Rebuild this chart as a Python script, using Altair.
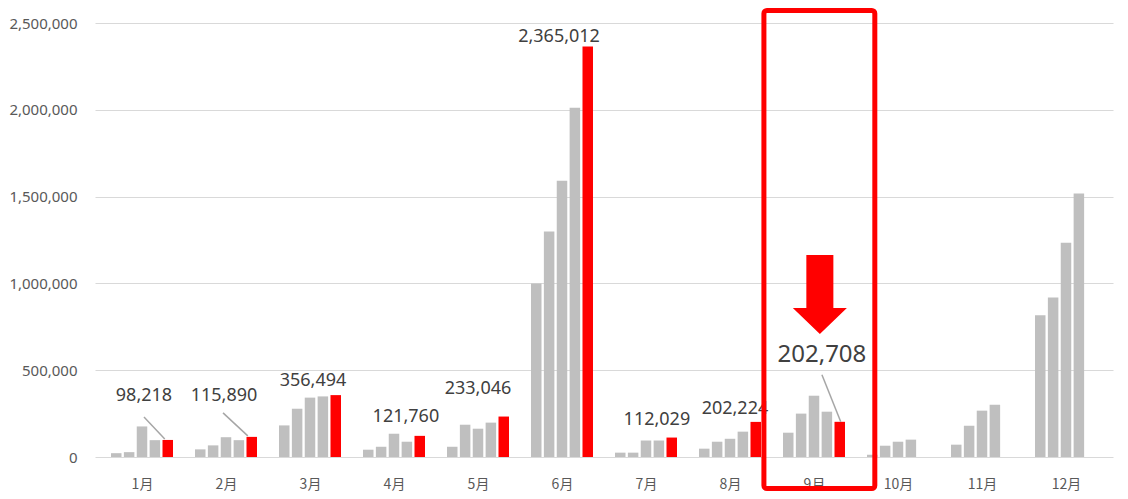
import altair as alt
import pandas as pd

# ---- data ----
months = list(range(1, 13))
series = ["2019年", "2020年", "2021年", "2022年", "2023年"]
v2019 = [22000, 44000, 182000, 42000, 59000, 1000000, 25000, 48000, 140000, 13000, 71000, 816000]
v2020 = [28000, 67000, 278000, 59000, 186000, 1299000, 25000, 88000, 250000, 65000, 180000, 919000]
v2021 = [176000, 114000, 342000, 134000, 163000, 1592000, 95000, 105000, 353000, 88000, 267000, 1234000]
v2022 = [97000, 97000, 349000, 88000, 198000, 2012000, 95000, 146000, 261000, 100000, 301000, 1518000]
v2023 = [98218, 115890, 356494, 121760, 233046, 2365012, 112029, 202224, 202708, None, None, None]
y_ticks = [0, 500000, 1000000, 1500000, 2000000, 2500000]

# ---- layout ----
W, H = 1018, 434
XMIN, XMAX = 0.5, 12.5
YMAX = 2500000
PXX = (XMAX - XMIN) / W      # month units per pixel
PXY = YMAX / H               # value units per pixel
SLOT = 13 * PXX              # distance between bars inside a month

# label placement (pixel offsets of label centre from the top of the red bar)
label_offset = {1: (-24, -44), 2: (-28, -41), 3: (-23, -14), 4: (-14, -19), 5: (-26, -28),
                6: (-29, -9), 7: (-15, -18), 8: (-21, -13), 9: (-18, -67)}
big_month = 9
# leader lines (pixel offsets from the bar top: start x, start y, end x, end y)
leader_px = {1: (-3, -1, -24, -23), 2: (-4, -1, -29, -24), 9: (1, 0, -18, -47)}

rows = []
for k, (name, vals) in enumerate(zip(series, [v2019, v2020, v2021, v2022, v2023])):
    for m, v in zip(months, vals):
        if v is None:
            continue
        rows.append({"month": m, "series": name, "value": v, "x": m + (k - 2) * SLOT})
df = pd.DataFrame(rows)

cur = df[df["series"] == series[-1]].copy()
cur["label"] = cur["value"].map(lambda v: f"{v:,}")
cur["lx"] = [x + label_offset[m][0] * PXX for x, m in zip(cur["x"], cur["month"])]
cur["ly"] = [v - label_offset[m][1] * PXY for v, m in zip(cur["value"], cur["month"])]
normal = cur[cur["month"] != big_month]
big = cur[cur["month"] == big_month]

lr = []
for _, r in cur[cur["month"].isin(list(leader_px))].iterrows():
    sx, sy, ex, ey = leader_px[r["month"]]
    lr.append({"x": r["x"] + sx * PXX, "value": r["value"] - sy * PXY,
               "x2": r["x"] + ex * PXX, "y2": r["value"] - ey * PXY})
lines_df = pd.DataFrame(lr)

xscale = alt.Scale(domain=[XMIN, XMAX], nice=False, zero=False)
yscale = alt.Scale(domain=[0, YMAX], nice=False)
xaxis = alt.Axis(values=months, labelExpr="datum.value + '月'",
                 grid=False, domain=False, ticks=False, labelPadding=20,
                 labelFontSize=14, labelColor="#595959", labelFont="Noto Sans CJK JP")
yaxis = alt.Axis(values=y_ticks, labelExpr="format(datum.value, ',')", grid=True,
                 gridColor="#D9D9D9", gridWidth=1.2, domain=False, ticks=False,
                 labelPadding=18, labelFontSize=15, labelColor="#595959",
                 labelFont="Noto Sans")

def X(f="x"):
    return alt.X(f"{f}:Q", scale=xscale, axis=xaxis, title="")

def Y(f="value"):
    return alt.Y(f"{f}:Q", scale=yscale, axis=yaxis, title="")

bars = alt.Chart(df).mark_bar(size=10.5).encode(
    x=X(), y=Y(),
    color=alt.Color("series:N", scale=alt.Scale(domain=series,
                    range=["#BFBFBF"] * 4 + ["#FF0000"]), legend=None),
)

lines = alt.Chart(lines_df).mark_rule(color="#A6A6A6", strokeWidth=1.5).encode(
    x=X(), y=Y(), x2="x2:Q", y2="y2:Q")

def labels(d, size):
    return alt.Chart(d).mark_text(fontSize=size, font="Noto Sans", color="#404040",
                                  baseline="middle", align="center").encode(
        x=X("lx"), y=Y("ly"), text="label:N")

t_normal = labels(normal, 18)
t_big = labels(big, 24)

# highlight box around 9月
box_df = pd.DataFrame([{"x": XMIN + (765.5 - 95) * PXX, "x2": XMIN + (877.5 - 95) * PXX,
                        "value": (457 - 10.5) * PXY, "y2": (457 - 488.5) * PXY}])
box = alt.Chart(box_df).mark_rect(fillOpacity=0, stroke="#FF0000", strokeWidth=5,
                                  cornerRadius=3).encode(
    x=X(), x2="x2:Q", y=Y(), y2="y2:Q")

# big arrow
arrow_path = "M-0.342,-1L0.342,-1L0.342,0.342L0.684,0.342L0,1L-0.684,0.342L-0.342,0.342Z"
arrow_df = pd.DataFrame([{"x": XMIN + (822 - 95) * PXX, "value": (457 - 294.5) * PXY}])
arrow = alt.Chart(arrow_df).mark_point(shape=arrow_path, size=79 * 79, filled=True,
                                       fill="#FF0000", fillOpacity=1, strokeWidth=0,
                                       opacity=1).encode(x=X(), y=Y())

chart = alt.layer(bars, lines, t_normal, t_big, box, arrow).properties(
    width=W, height=H, autosize=alt.AutoSizeParams(type="none"),
    padding={"left": 87, "top": 15, "right": 5, "bottom": 34},
    background="white",
).configure_view(strokeWidth=0).configure_axisY(
    labelFontSize=15, labelColor="#595959", labelFont="Noto Sans", labelPadding=18,
    labelExpr="format(datum.value, ',')", domain=False, ticks=False,
    gridColor="#D9D9D9").configure_axisX(
    labelFontSize=14, labelColor="#595959", labelFont="Noto Sans CJK JP", labelPadding=20,
    domain=False, ticks=False, grid=False)

chart.save("out.html", embed_options={"renderer": "svg", "actions": False})
